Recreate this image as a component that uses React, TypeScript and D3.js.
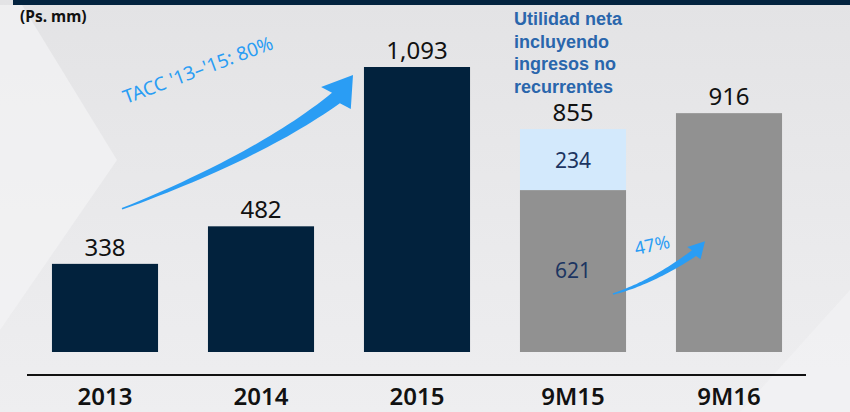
import React from 'react';
import { scaleBand, scaleLinear } from 'd3';

const categories = ['2013', '2014', '2015', '9M15', '9M16'];
const recurring = [338, 482, 1093, 621, 916];
const nonRecurring = [0, 0, 0, 234, 0];
const totalLabels = ['338', '482', '1,093', '855', '916'];
const segmentLabels = ['', '', '', '621', ''];
const extraLabels = ['', '', '', '234', ''];
const barColors = ['#02223d', '#02223d', '#02223d', '#919191', '#919191'];
const unitLabel = '(Ps. mm)';
const cagrLabel = "TACC '13–'15: 80%";
const growthLabel = '47%';
const noteLines = ['Utilidad neta', 'incluyendo', 'ingresos no', 'recurrentes'];

const W = 850;
const H = 412;

type Pt = [number, number];

function arrowPath(p0: Pt, c: Pt, p1: Pt, tip: Pt, w0: number, w1: number, hw: number) {
  const n = 30;
  const left: Pt[] = [];
  const right: Pt[] = [];
  for (let i = 0; i <= n; i++) {
    const t = i / n;
    const x = (1 - t) * (1 - t) * p0[0] + 2 * (1 - t) * t * c[0] + t * t * p1[0];
    const y = (1 - t) * (1 - t) * p0[1] + 2 * (1 - t) * t * c[1] + t * t * p1[1];
    const dx = 2 * (1 - t) * (c[0] - p0[0]) + 2 * t * (p1[0] - c[0]);
    const dy = 2 * (1 - t) * (c[1] - p0[1]) + 2 * t * (p1[1] - c[1]);
    const len = Math.sqrt(dx * dx + dy * dy);
    const nx = -dy / len;
    const ny = dx / len;
    const w = w0 + (w1 - w0) * t;
    left.push([x + nx * w, y + ny * w]);
    right.push([x - nx * w, y - ny * w]);
  }
  const hdx = tip[0] - p1[0];
  const hdy = tip[1] - p1[1];
  const hl = Math.sqrt(hdx * hdx + hdy * hdy);
  const hnx = -hdy / hl;
  const hny = hdx / hl;
  const a: Pt = [p1[0] + hnx * hw, p1[1] + hny * hw];
  const b: Pt = [p1[0] - hnx * hw, p1[1] - hny * hw];
  const pts = [...left, a, tip, b, ...right.reverse()];
  return 'M' + pts.map(p => p[0].toFixed(1) + ',' + p[1].toFixed(1)).join('L') + 'Z';
}

export default function App() {
  const x = scaleBand().domain(categories).range([27, 807]).paddingInner(0.32).paddingOuter(0.16);
  const y = scaleLinear().domain([0, 1093]).range([352, 67]);
  const bw = x.bandwidth();
  const cx = (i: number) => (x(categories[i]) as number) + bw / 2;

  // big CAGR arrow, anchored on the 2013 and 2015 bars
  const bigTail: Pt = [cx(0) + 17, y(338) - 55];
  const bigTip: Pt = [x('2015')! - 11, y(1093) + 8];
  const bigBase: Pt = [bigTip[0] - 17, bigTip[1] + 23];
  const bigCtrl: Pt = [bigTail[0] + 138, bigTail[1] - 53];
  const bigArrow = arrowPath(bigTail, bigCtrl, bigBase, bigTip, 0.8, 6.5, 18.5);

  // small growth arrow between 9M15 and 9M16
  const smTail: Pt = [cx(3) + 40, y(621) + 104];
  const smTip: Pt = [x('9M16')! + 29, y(916) + 128];
  const smBase: Pt = [smTip[0] - 11, smTip[1] + 12];
  const smCtrl: Pt = [smTail[0] + 40, smTail[1] - 12];
  const smArrow = arrowPath(smTail, smCtrl, smBase, smTip, 0.8, 3.5, 9);

  const num = 'Noto Sans, Open Sans, sans-serif';

  return (
    <div style={{ position: 'absolute', left: 0, top: 0 }}>
      <svg width={W} height={H} style={{ display: 'block' }}>
        <defs>
          <linearGradient id="bg" x1="0" y1="0" x2="0" y2="1">
            <stop offset="0%" stopColor="#e3e3e5" />
            <stop offset="60%" stopColor="#eaeaec" />
            <stop offset="100%" stopColor="#eeeef0" />
          </linearGradient>
        </defs>
        <rect width={W} height={H} fill="url(#bg)" />
        <polygon points="0,5 22,5 117,160 0,330" fill="#f3f3f5" opacity={0.7} />
        <polygon points="740,412 850,290 850,412" fill="#f3f3f5" opacity={0.6} />
        <rect x={13} y={0} width={W - 13} height={5} fill="#03233f" />

        <text x={20} y={22} fontFamily={num} fontWeight="bold" fontSize={15.5} fill="#111">{unitLabel}</text>

        {categories.map((c, i) => (
          <g key={c}>
            <rect x={x(c)} y={y(recurring[i])} width={bw} height={y(0) - y(recurring[i])} fill={barColors[i]} />
            {nonRecurring[i] > 0 && (
              <rect x={x(c)} y={y(recurring[i] + nonRecurring[i])} width={bw} height={y(0) - y(nonRecurring[i])} fill="#d3e9fc" />
            )}
            <text x={cx(i)} y={y(recurring[i] + nonRecurring[i]) - 8} textAnchor="middle" fontFamily={num} fontSize={24} fill="#111">{totalLabels[i]}</text>
            {segmentLabels[i] && (
              <text x={cx(i)} y={(y(0) + y(recurring[i])) / 2 + 7} textAnchor="middle" fontFamily={num} fontSize={21} fill="#1c3561">{segmentLabels[i]}</text>
            )}
            {extraLabels[i] && (
              <text x={cx(i)} y={(y(recurring[i]) + y(recurring[i] + nonRecurring[i])) / 2 + 8} textAnchor="middle" fontFamily={num} fontSize={21} fill="#1c3561">{extraLabels[i]}</text>
            )}
            <text x={cx(i)} y={405} textAnchor="middle" fontFamily={num} fontWeight={600} fontSize={24} fill="#111">{c}</text>
          </g>
        ))}

        <line x1={27} x2={806} y1={375} y2={375} stroke="#111" strokeWidth={2} />

        <path d={bigArrow} fill="#2a9df4" />
        <text transform="translate(126,104) rotate(-20.5)" fontFamily={num} fontSize={19} fill="#2a9df4">{cagrLabel}</text>

        <path d={smArrow} fill="#2a9df4" />
        <text transform="translate(636,255) rotate(-12)" fontFamily={num} fontSize={18} fill="#2a9df4">{growthLabel}</text>

        {noteLines.map((l, i) => (
          <text key={l} x={514} y={25 + i * 22.5} fontFamily="Liberation Sans, Arial, sans-serif" fontWeight="bold" fontSize={18} fill="#2a66ac">{l}</text>
        ))}
      </svg>
    </div>
  );
}
